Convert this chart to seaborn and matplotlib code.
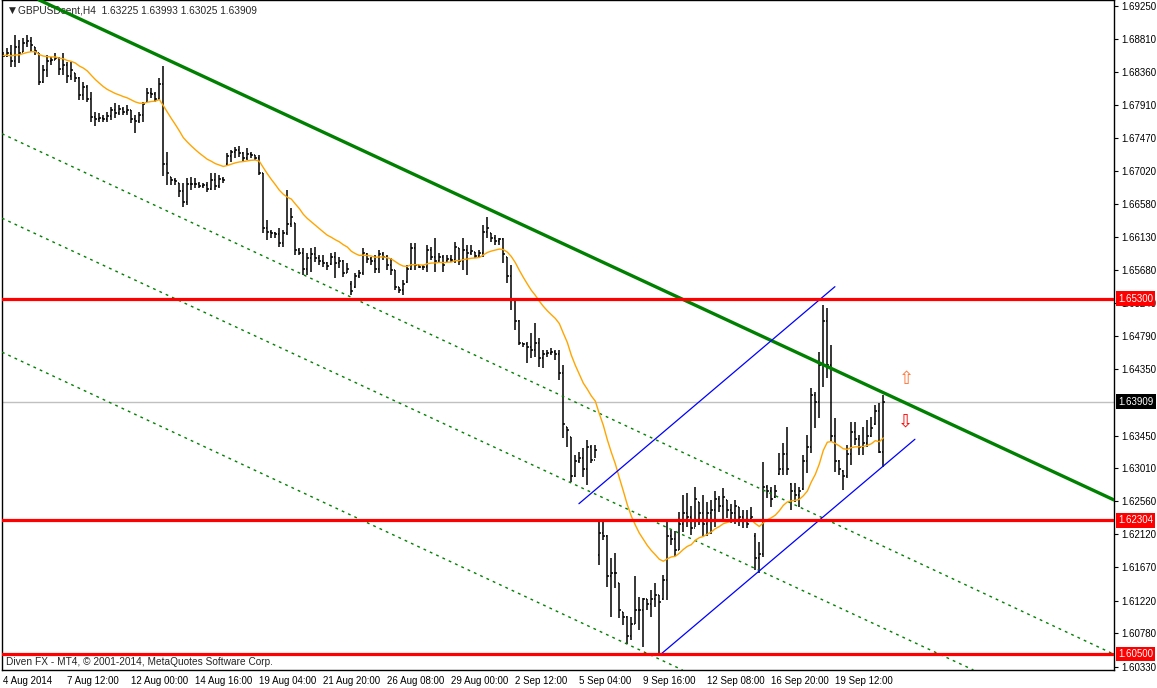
import numpy as np
import pandas as pd
import matplotlib
matplotlib.use("Agg")
import matplotlib.pyplot as plt
import matplotlib.transforms as mtransforms
import seaborn as sns

sns.set_style("white")
plt.rcParams["font.family"] = ["Liberation Sans", "DejaVu Sans"]

# GBPUSD H4 bars, 4 Aug 2014 -> 22 Sep 2014
highs = [
    1.6863, 1.6868, 1.6872, 1.6886, 1.6879, 1.6882, 1.6886, 1.6883, 1.6870, 1.6861,
    1.6845, 1.6859, 1.6856, 1.6861, 1.6856, 1.6861, 1.6849, 1.6849, 1.6834, 1.6829,
    1.6822, 1.6818, 1.6809, 1.6782, 1.6780, 1.6778, 1.6782, 1.6789, 1.6794, 1.6791,
    1.6789, 1.6791, 1.6785, 1.6778, 1.6782, 1.6795, 1.6814, 1.6814, 1.6809, 1.6828,
    1.6844, 1.6728, 1.6694, 1.6693, 1.6686, 1.6686, 1.6693, 1.6694, 1.6693, 1.6687,
    1.6686, 1.6687, 1.6699, 1.6699, 1.6697, 1.6694, 1.6726, 1.6731, 1.6735, 1.6736,
    1.6728, 1.6733, 1.6728, 1.6724, 1.6724, 1.6699, 1.6636, 1.6623, 1.6620, 1.6625,
    1.6623, 1.6677, 1.6652, 1.6632, 1.6598, 1.6598, 1.6591, 1.6598, 1.6600, 1.6589,
    1.6589, 1.6579, 1.6591, 1.6593, 1.6586, 1.6582, 1.6578, 1.6553, 1.6565, 1.6569,
    1.6598, 1.6591, 1.6586, 1.6589, 1.6596, 1.6593, 1.6589, 1.6585, 1.6569, 1.6546,
    1.6555, 1.6575, 1.6605, 1.6605, 1.6575, 1.6575, 1.6602, 1.6600, 1.6612, 1.6591,
    1.6589, 1.6589, 1.6589, 1.6606, 1.6598, 1.6612, 1.6602, 1.6602, 1.6593, 1.6596,
    1.6629, 1.6640, 1.6618, 1.6616, 1.6612, 1.6612, 1.6586, 1.6575, 1.6531, 1.6501,
    1.6470, 1.6471, 1.6483, 1.6497, 1.6477, 1.6460, 1.6460, 1.6463, 1.6460, 1.6460,
    1.6440, 1.6357, 1.6343, 1.6319, 1.6323, 1.6328, 1.6339, 1.6332, 1.6332, 1.6228,
    1.6231, 1.6211, 1.6180, 1.6187, 1.6146, 1.6107, 1.6102, 1.6100, 1.6155, 1.6127,
    1.6126, 1.6124, 1.6137, 1.6146, 1.6130, 1.6157, 1.6230, 1.6218, 1.6216, 1.6242,
    1.6265, 1.6268, 1.6250, 1.6276, 1.6255, 1.6265, 1.6255, 1.6258, 1.6270, 1.6263,
    1.6274, 1.6258, 1.6253, 1.6258, 1.6249, 1.6245, 1.6245, 1.6249, 1.6213, 1.6201,
    1.6309, 1.6278, 1.6276, 1.6278, 1.6321, 1.6335, 1.6357, 1.6281, 1.6281, 1.6276,
    1.6319, 1.6346, 1.6409, 1.6404, 1.6458, 1.6521, 1.6517, 1.6467, 1.6369, 1.6312,
    1.6298, 1.6332, 1.6363, 1.6363, 1.6346, 1.6357, 1.6366, 1.6370, 1.6386, 1.6389,
    1.63993,
]
lows = [
    1.6856, 1.6856, 1.6843, 1.6843, 1.6848, 1.6863, 1.6870, 1.6863, 1.6859, 1.6818,
    1.6821, 1.6829, 1.6845, 1.6852, 1.6832, 1.6832, 1.6821, 1.6825, 1.6822, 1.6798,
    1.6798, 1.6795, 1.6768, 1.6763, 1.6768, 1.6768, 1.6768, 1.6771, 1.6774, 1.6778,
    1.6778, 1.6778, 1.6767, 1.6753, 1.6767, 1.6768, 1.6795, 1.6801, 1.6795, 1.6798,
    1.6695, 1.6683, 1.6683, 1.6683, 1.6667, 1.6654, 1.6656, 1.6677, 1.6679, 1.6679,
    1.6679, 1.6674, 1.6677, 1.6677, 1.6679, 1.6686, 1.6710, 1.6714, 1.6720, 1.6721,
    1.6714, 1.6717, 1.6720, 1.6717, 1.6697, 1.6618, 1.6609, 1.6612, 1.6612, 1.6600,
    1.6600, 1.6616, 1.6627, 1.6589, 1.6589, 1.6562, 1.6562, 1.6566, 1.6579, 1.6575,
    1.6573, 1.6569, 1.6575, 1.6558, 1.6571, 1.6559, 1.6565, 1.6535, 1.6544, 1.6558,
    1.6562, 1.6578, 1.6575, 1.6565, 1.6565, 1.6582, 1.6569, 1.6562, 1.6542, 1.6537,
    1.6535, 1.6551, 1.6569, 1.6569, 1.6571, 1.6569, 1.6566, 1.6582, 1.6566, 1.6578,
    1.6566, 1.6579, 1.6579, 1.6578, 1.6575, 1.6569, 1.6562, 1.6589, 1.6585, 1.6586,
    1.6586, 1.6612, 1.6606, 1.6602, 1.6602, 1.6578, 1.6551, 1.6515, 1.6488, 1.6467,
    1.6465, 1.6443, 1.6450, 1.6451, 1.6438, 1.6436, 1.6451, 1.6454, 1.6447, 1.6420,
    1.6342, 1.6330, 1.6282, 1.6289, 1.6308, 1.6289, 1.6278, 1.6308, 1.6315, 1.6170,
    1.6204, 1.6141, 1.6100, 1.6139, 1.6099, 1.6089, 1.6064, 1.6069, 1.6091, 1.6083,
    1.6060, 1.6110, 1.6100, 1.6114, 1.6049, 1.6123, 1.6123, 1.6197, 1.6183, 1.6191,
    1.6215, 1.6222, 1.6211, 1.6222, 1.6224, 1.6208, 1.6210, 1.6212, 1.6222, 1.6242,
    1.6230, 1.6234, 1.6227, 1.6226, 1.6223, 1.6220, 1.6220, 1.6231, 1.6164, 1.6160,
    1.6181, 1.6261, 1.6249, 1.6261, 1.6292, 1.6292, 1.6292, 1.6245, 1.6255, 1.6249,
    1.6272, 1.6295, 1.6321, 1.6355, 1.6369, 1.6411, 1.6423, 1.6336, 1.6296, 1.6292,
    1.6272, 1.6288, 1.6305, 1.6332, 1.6319, 1.6319, 1.6330, 1.6343, 1.6359, 1.6321,
    1.63025,
]
opens = [
    1.6860, 1.6858, 1.6862, 1.6850, 1.6870, 1.6863, 1.6875, 1.6878, 1.6870, 1.6861,
    1.6822, 1.6838, 1.6850, 1.6852, 1.6855, 1.6840, 1.6845, 1.6830, 1.6834, 1.6828,
    1.6805, 1.6815, 1.6800, 1.6775, 1.6772, 1.6774, 1.6772, 1.6776, 1.6784, 1.6780,
    1.6786, 1.6782, 1.6784, 1.6772, 1.6770, 1.6778, 1.6795, 1.6808, 1.6806, 1.6800,
    1.6820, 1.6712, 1.6694, 1.6690, 1.6686, 1.6675, 1.6660, 1.6685, 1.6685, 1.6684,
    1.6682, 1.6683, 1.6678, 1.6690, 1.6682, 1.6692, 1.6712, 1.6722, 1.6728, 1.6730,
    1.6726, 1.6720, 1.6725, 1.6724, 1.6720, 1.6699, 1.6625, 1.6620, 1.6618, 1.6617,
    1.6605, 1.6618, 1.6630, 1.6632, 1.6595, 1.6592, 1.6570, 1.6585, 1.6590, 1.6585,
    1.6580, 1.6578, 1.6576, 1.6586, 1.6578, 1.6580, 1.6565, 1.6550, 1.6546, 1.6560,
    1.6565, 1.6590, 1.6584, 1.6580, 1.6570, 1.6590, 1.6586, 1.6575, 1.6568, 1.6546,
    1.6542, 1.6552, 1.6570, 1.6598, 1.6575, 1.6573, 1.6572, 1.6595, 1.6586, 1.6580,
    1.6586, 1.6580, 1.6584, 1.6582, 1.6598, 1.6580, 1.6595, 1.6592, 1.6593, 1.6588,
    1.6592, 1.6620, 1.6618, 1.6612, 1.6608, 1.6610, 1.6586, 1.6560, 1.6530, 1.6500,
    1.6470, 1.6468, 1.6465, 1.6460, 1.6470, 1.6450, 1.6455, 1.6456, 1.6458, 1.6455,
    1.6430, 1.6357, 1.6343, 1.6290, 1.6310, 1.6315, 1.6300, 1.6330, 1.6312, 1.6184,
    1.6213, 1.6210, 1.6155, 1.6160, 1.6146, 1.6107, 1.6100, 1.6075, 1.6090, 1.6110,
    1.6110, 1.6124, 1.6118, 1.6125, 1.6130, 1.6124, 1.6150, 1.6210, 1.6205, 1.6190,
    1.6225, 1.6240, 1.6235, 1.6220, 1.6255, 1.6240, 1.6225, 1.6240, 1.6245, 1.6260,
    1.6250, 1.6258, 1.6245, 1.6240, 1.6249, 1.6235, 1.6230, 1.6232, 1.6210, 1.6180,
    1.6185, 1.6275, 1.6270, 1.6262, 1.6293, 1.6300, 1.6320, 1.6280, 1.6270, 1.6265,
    1.6273, 1.6310, 1.6330, 1.6400, 1.6390, 1.6440, 1.6500, 1.6440, 1.6345, 1.6310,
    1.6297, 1.6290, 1.6320, 1.6350, 1.6340, 1.6330, 1.6335, 1.6345, 1.6360, 1.6378,
    1.63225,
]
closes = [
    1.6858, 1.6862, 1.6850, 1.6870, 1.6862, 1.6875, 1.6878, 1.6872, 1.6864, 1.6822,
    1.6838, 1.6850, 1.6852, 1.6855, 1.6840, 1.6845, 1.6830, 1.6838, 1.6828, 1.6805,
    1.6815, 1.6800, 1.6775, 1.6772, 1.6774, 1.6772, 1.6776, 1.6784, 1.6780, 1.6786,
    1.6782, 1.6784, 1.6772, 1.6770, 1.6778, 1.6792, 1.6808, 1.6806, 1.6800, 1.6820,
    1.6712, 1.6700, 1.6690, 1.6688, 1.6675, 1.6660, 1.6685, 1.6685, 1.6684, 1.6682,
    1.6683, 1.6678, 1.6690, 1.6682, 1.6692, 1.6690, 1.6722, 1.6728, 1.6730, 1.6726,
    1.6720, 1.6725, 1.6724, 1.6720, 1.6700, 1.6625, 1.6620, 1.6618, 1.6617, 1.6605,
    1.6618, 1.6630, 1.6640, 1.6595, 1.6592, 1.6570, 1.6585, 1.6590, 1.6585, 1.6580,
    1.6578, 1.6574, 1.6586, 1.6578, 1.6580, 1.6565, 1.6570, 1.6540, 1.6560, 1.6565,
    1.6592, 1.6584, 1.6580, 1.6570, 1.6590, 1.6586, 1.6575, 1.6568, 1.6546, 1.6542,
    1.6550, 1.6570, 1.6598, 1.6575, 1.6573, 1.6572, 1.6595, 1.6586, 1.6580, 1.6586,
    1.6575, 1.6584, 1.6582, 1.6600, 1.6580, 1.6595, 1.6592, 1.6594, 1.6588, 1.6592,
    1.6620, 1.6625, 1.6612, 1.6608, 1.6610, 1.6590, 1.6560, 1.6530, 1.6500, 1.6470,
    1.6468, 1.6465, 1.6460, 1.6470, 1.6450, 1.6455, 1.6456, 1.6458, 1.6455, 1.6430,
    1.6360, 1.6352, 1.6290, 1.6310, 1.6315, 1.6300, 1.6330, 1.6312, 1.6325, 1.6213,
    1.6210, 1.6155, 1.6160, 1.6160, 1.6110, 1.6100, 1.6075, 1.6090, 1.6110, 1.6110,
    1.6125, 1.6118, 1.6125, 1.6130, 1.6120, 1.6150, 1.6210, 1.6205, 1.6190, 1.6225,
    1.6240, 1.6235, 1.6220, 1.6260, 1.6240, 1.6225, 1.6240, 1.6245, 1.6260, 1.6250,
    1.6262, 1.6245, 1.6240, 1.6250, 1.6235, 1.6230, 1.6225, 1.6235, 1.6180, 1.6185,
    1.6275, 1.6270, 1.6260, 1.6270, 1.6300, 1.6320, 1.6300, 1.6270, 1.6265, 1.6270,
    1.6310, 1.6330, 1.6400, 1.6390, 1.6440, 1.6500, 1.6440, 1.6345, 1.6310, 1.6300,
    1.6290, 1.6320, 1.6350, 1.6340, 1.6330, 1.6335, 1.6345, 1.6355, 1.6378, 1.6323,
    1.63909,
]

date_bars = [0, 16, 32, 48, 64, 80, 96, 112, 128, 144, 160, 176, 192, 208]
date_labels = ["4 Aug 2014", "7 Aug 12:00", "12 Aug 00:00", "14 Aug 16:00",
               "19 Aug 04:00", "21 Aug 20:00", "26 Aug 08:00", "29 Aug 00:00",
               "2 Sep 12:00", "5 Sep 04:00", "9 Sep 16:00", "12 Sep 08:00",
               "16 Sep 20:00", "19 Sep 12:00"]
# 1.63900 sits under the bid box, so it is left out
price_ticks = [1.69250, 1.68810, 1.68360, 1.67910, 1.67470, 1.67020, 1.66580,
               1.66130, 1.65680, 1.65240, 1.64790, 1.64350, 1.63450,
               1.63010, 1.62560, 1.62120, 1.61670, 1.61220, 1.60780, 1.60330]

levels = [1.65300, 1.62304, 1.60500]
bid = 1.63909

# trend objects: (bar, price) anchor pairs
main_trend = [(19.7, 1.6906), (277.7, 1.6258)]
dotted_lines = [
    [(-0.15, 1.6752), (184.2, 1.6286)],
    [(-0.15, 1.6638), (184.2, 1.6175)],
    [(-0.1, 1.6457), (160.9, 1.6051)],
]
channel_upper = ([143.9, 207.9], [1.6253, 1.6546])
channel_lower = ([164.2, 227.9], [1.6049, 1.6340])
arrow_up = (225.9, 1.6422)
arrow_down = (225.6, 1.6364)

n = len(closes)
assert len(highs) == n and len(lows) == n and len(opens) == n
bars = np.arange(n)

fig = plt.figure(figsize=(11.57, 6.88), dpi=100)
fig.patch.set_facecolor("white")
ax = fig.add_axes([2 / 1157, 18 / 688, 1112 / 1157, 670 / 688])

# OHLC bars
ax.vlines(bars, lows, highs, color="black", lw=1.1, zorder=2)
ax.hlines(opens, bars - 0.45, bars, color="black", lw=1.1, zorder=2)
ax.hlines(closes, bars, bars + 0.45, color="black", lw=1.1, zorder=2)

# moving average
ma = pd.Series(closes).ewm(span=20, adjust=False).mean()
sns.lineplot(x=bars, y=ma.values, color="#ffa500", lw=1.0, ax=ax, zorder=4)

# objects
ax.axline(main_trend[0], main_trend[1], color="#008000", lw=2.4, zorder=5)
for p1, p2 in dotted_lines:
    ax.axline(p1, p2, color="#008000", lw=1.0, ls=(0, (2, 3)), zorder=3)
ax.plot(*channel_upper, color="#0000ff", lw=0.9, zorder=5)
ax.plot(*channel_lower, color="#0000ff", lw=0.9, zorder=5)
ax.axhline(bid, color="#c0c0c0", lw=1.0, zorder=1)
for lv in levels:
    ax.axhline(lv, color="#ff0000", lw=2.3, zorder=6)

ax.text(*arrow_up, "\u21e7", color="#ff7030", fontsize=13, ha="center", va="center",
        family=["DejaVu Sans"], zorder=7)
ax.text(*arrow_down, "\u21e9", color="#ff0000", fontsize=13, ha="center", va="center",
        family=["DejaVu Sans"], zorder=7)

ax.set_xlim(-0.33, 277.67)
ax.set_ylim(1.60285, 1.6933)
ax.set_xlabel("")
ax.set_ylabel("")

# axes styling
for s in ax.spines.values():
    s.set_color("black")
    s.set_linewidth(1.0)
ax.yaxis.tick_right()
ax.set_yticks(price_ticks)
ax.set_yticklabels([f"{p:.5f}" for p in price_ticks])
ax.set_xticks(date_bars)
ax.set_xticklabels(date_labels, ha="left")
ax.tick_params(axis="both", direction="out", length=3, width=0.8, labelsize=7,
               colors="black", pad=2)
ax.tick_params(axis="x", pad=1)

# price labels for lines
trans = mtransforms.blended_transform_factory(ax.transAxes, ax.transData)
for lv in levels:
    ax.text(1.0038, lv, f"{lv:.5f}", transform=trans, color="white", fontsize=7,
            ha="left", va="center", clip_on=False, zorder=10,
            bbox=dict(boxstyle="square,pad=0.22", fc="#ff0000", ec="none"))
ax.text(1.0038, bid, f"{bid:.5f}", transform=trans, color="white", fontsize=7,
        ha="left", va="center", clip_on=False, zorder=10,
        bbox=dict(boxstyle="square,pad=0.22", fc="black", ec="none"))

# header and footer texts
ax.text(0.0062, 0.985, "\u25bc", transform=ax.transAxes, fontsize=6.5, va="center", ha="left",
        family=["DejaVu Sans"])
ax.text(0.0145, 0.985, "GBPUSDcent,H4  1.63225 1.63993 1.63025 1.63909",
        transform=ax.transAxes, fontsize=7.3, va="center", ha="left")
ax.text(0.0035, 0.012, "Diven FX - MT4, \u00a9 2001-2014, MetaQuotes Software Corp.",
        transform=ax.transAxes, fontsize=7.3, va="center", ha="left")

fig.savefig("out.png", dpi=100, facecolor="white")
